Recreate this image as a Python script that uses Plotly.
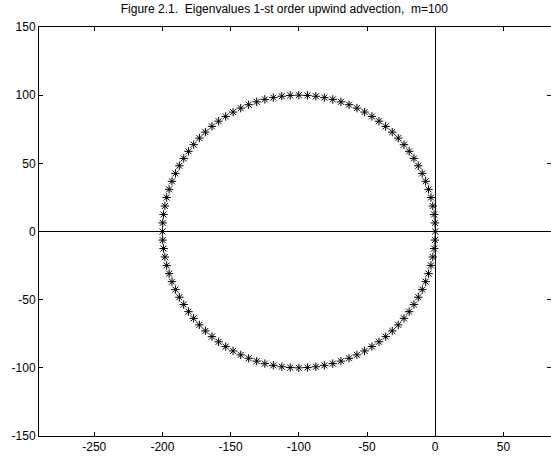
import plotly.graph_objects as go

re_vals = [
    0.0, -0.2, -0.8, -1.8, -3.1, -4.9, -7.0, -9.5, -12.4, -15.6,
    -19.1, -22.9, -27.1, -31.5, -36.3, -41.2, -46.4, -51.8, -57.4, -63.2,
    -69.1, -75.1, -81.3, -87.5, -93.7, -100.0, -106.3, -112.5, -118.7, -124.9,
    -130.9, -136.8, -142.6, -148.2, -153.6, -158.8, -163.7, -168.5, -172.9, -177.1,
    -180.9, -184.4, -187.6, -190.5, -193.0, -195.1, -196.9, -198.2, -199.2, -199.8,
    -200.0, -199.8, -199.2, -198.2, -196.9, -195.1, -193.0, -190.5, -187.6, -184.4,
    -180.9, -177.1, -172.9, -168.5, -163.7, -158.8, -153.6, -148.2, -142.6, -136.8,
    -130.9, -124.9, -118.7, -112.5, -106.3, -100.0, -93.7, -87.5, -81.3, -75.1,
    -69.1, -63.2, -57.4, -51.8, -46.4, -41.2, -36.3, -31.5, -27.1, -22.9,
    -19.1, -15.6, -12.4, -9.5, -7.0, -4.9, -3.1, -1.8, -0.8, -0.2,
]
im_vals = [
    0.0, 6.3, 12.5, 18.7, 24.9, 30.9, 36.8, 42.6, 48.2, 53.6,
    58.8, 63.7, 68.5, 72.9, 77.1, 80.9, 84.4, 87.6, 90.5, 93.0,
    95.1, 96.9, 98.2, 99.2, 99.8, 100.0, 99.8, 99.2, 98.2, 96.9,
    95.1, 93.0, 90.5, 87.6, 84.4, 80.9, 77.1, 72.9, 68.5, 63.7,
    58.8, 53.6, 48.2, 42.6, 36.8, 30.9, 24.9, 18.7, 12.5, 6.3,
    0.0, -6.3, -12.5, -18.7, -24.9, -30.9, -36.8, -42.6, -48.2, -53.6,
    -58.8, -63.7, -68.5, -72.9, -77.1, -80.9, -84.4, -87.6, -90.5, -93.0,
    -95.1, -96.9, -98.2, -99.2, -99.8, -100.0, -99.8, -99.2, -98.2, -96.9,
    -95.1, -93.0, -90.5, -87.6, -84.4, -80.9, -77.1, -72.9, -68.5, -63.7,
    -58.8, -53.6, -48.2, -42.6, -36.8, -30.9, -24.9, -18.7, -12.5, -6.3,
]
x_ticks = [-250, -200, -150, -100, -50, 0, 50]
x_tick_labels = ["-250", "-200", "-150", "-100", "-50", "0", "50"]
y_ticks = [-150, -100, -50, 0, 50, 100, 150]
y_tick_labels = ["-150", "-100", "-50", "0", "50", "100", "150"]
title_text = "Figure 2.1.\u00a0 Eigenvalues 1-st order upwind advection,\u00a0 m=100"

fig = go.Figure()
fig.add_trace(go.Scatter(
    x=re_vals, y=im_vals, mode="markers",
    marker=dict(symbol="asterisk-open", size=7, color="black",
                line=dict(color="black", width=1)),
    showlegend=False, hoverinfo="x+y",
))

font = dict(family="Liberation Sans, Arial, sans-serif", size=12, color="black")
axis_common = dict(
    showgrid=False, showline=True, linecolor="black", linewidth=1, mirror="ticks",
    ticks="inside", ticklen=4, tickcolor="black", tickwidth=1,
    zeroline=True, zerolinecolor="black", zerolinewidth=1,
    tickfont=font, automargin=False,
)
fig.update_layout(
    width=551, height=457,
    margin=dict(l=39, r=0, t=27, b=21, autoexpand=False),
    paper_bgcolor="white", plot_bgcolor="white",
    title=dict(text=title_text, x=0.516, xanchor="center", y=0.99, yanchor="top",
               font=dict(family="Liberation Sans, Arial, sans-serif", size=12, color="black")),
    xaxis=dict(range=[-290.5, 84.9], tickvals=x_ticks, ticktext=x_tick_labels, **axis_common),
    yaxis=dict(range=[-150, 150], tickvals=y_ticks, ticktext=y_tick_labels, **axis_common),
    font=font,
)
fig.write_html("out.html", config={"displayModeBar": False},
               post_script="document.body.style.margin='0';document.body.style.padding='0';document.body.style.overflow='hidden';")
